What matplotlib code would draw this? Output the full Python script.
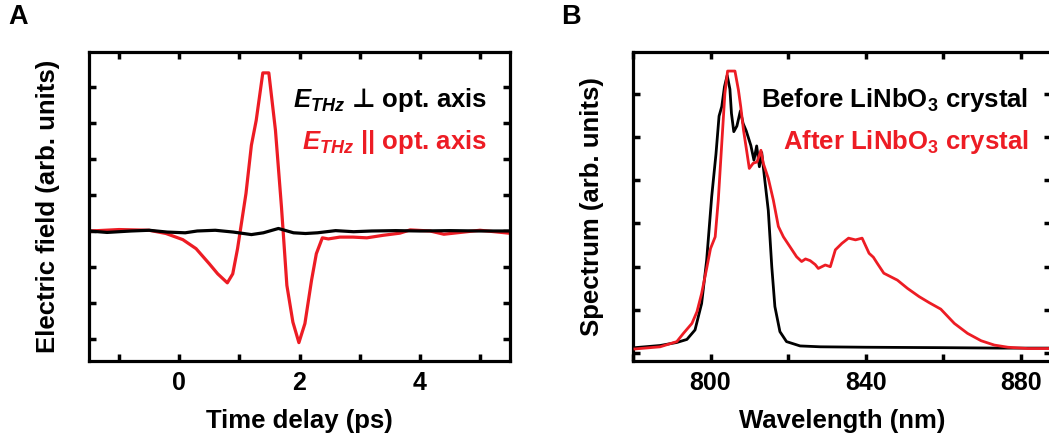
import matplotlib
matplotlib.use("Agg")
import matplotlib.pyplot as plt
from matplotlib.ticker import MultipleLocator, NullFormatter

plt.rcParams['font.family'] = ['Liberation Sans', 'DejaVu Sans']
plt.rcParams['font.weight'] = 'bold'
plt.rcParams['mathtext.fontset'] = 'custom'
plt.rcParams['mathtext.rm'] = 'Liberation Sans:bold'
plt.rcParams['mathtext.it'] = 'Liberation Sans:italic:bold'
plt.rcParams['mathtext.bf'] = 'Liberation Sans:bold'
plt.rcParams['mathtext.sf'] = 'DejaVu Sans:bold'

RED = '#ED1C24'

# ---------------- Panel A data ----------------
t_par = [-1.47, -1.0, -0.5, -0.22, 0.06, 0.28, 0.5, 0.64, 0.8, 0.89, 0.97, 1.11, 1.2,
         1.28, 1.39, 1.49, 1.6, 1.7, 1.79, 1.89, 1.99, 2.09, 2.2, 2.28, 2.38, 2.48,
         2.67, 2.89, 3.12, 3.39, 3.67, 3.84, 4.17, 4.4, 4.73, 5.0, 5.48]
e_par = [0.0, 0.04, 0.02, -0.07, -0.24, -0.49, -0.91, -1.19, -1.44, -1.19, -0.49, 1.04, 2.38,
         3.07, 4.39, 4.39, 2.8, 0.67, -1.51, -2.53, -3.10, -2.57, -1.37, -0.63, -0.19, -0.22,
         -0.17, -0.17, -0.19, -0.12, -0.06, 0.03, 0.0, -0.09, -0.03, 0.02, -0.06]

t_perp = [-1.5, -1.2, -0.8, -0.5, -0.2, 0.1, 0.3, 0.6, 0.9, 1.2, 1.4, 1.65, 1.9, 2.1,
          2.3, 2.6, 2.9, 3.2, 3.6, 4.0, 4.5, 5.0, 5.5]
e_perp = [0.0, -0.04, 0.0, 0.02, -0.03, -0.05, 0.0, 0.02, -0.03, -0.1, -0.05, 0.07, -0.05, -0.07,
          -0.05, 0.01, -0.02, 0.0, 0.01, 0.0, 0.01, 0.0, 0.0]

# ---------------- Panel B data ----------------
wl_before = [780.5, 787.0, 791.3, 793.9, 796.0, 797.7, 799.0, 800.3, 801.4, 802.2, 802.9,
             803.6, 804.3, 805.0, 805.4, 806.0, 806.8, 807.7, 808.4, 809.2, 810.4, 811.2,
             811.9, 812.6, 813.2, 814.0, 814.9, 815.8, 816.6, 817.9, 819.6, 823.1, 828.3,
             840.0, 860.0, 875.0, 887.0]
s_before = [0.13, 0.18, 0.25, 0.32, 0.54, 1.15, 2.15, 3.62, 4.60, 5.48, 5.70,
            6.16, 6.42, 6.1, 5.54, 5.12, 5.25, 5.60, 5.31, 5.14, 4.80, 4.46,
            4.79, 4.31, 4.64, 4.00, 3.30, 2.0, 1.08, 0.5, 0.27, 0.17, 0.15,
            0.14, 0.13, 0.12, 0.12]

wl_after = [780.5, 787.0, 791.3, 793.0, 795.2, 796.5, 797.7, 799.0, 800.0, 801.2, 802.0,
            802.9, 803.7, 804.4, 806.3, 807.2, 807.8, 808.5, 809.3, 810.0, 811.0, 812.0,
            813.0, 813.6, 814.9, 816.2, 817.5, 818.8, 820.5, 822.2, 823.5, 824.5, 825.7,
            827.0, 827.8, 829.6, 830.9, 832.2, 833.9, 835.6, 837.4, 839.1, 840.9, 842.0,
            843.0, 844.7, 848.2, 850.8, 853.8, 856.4, 859.4, 862.9, 866.3, 869.8, 873.2,
            876.7, 881.8, 887.0]
s_after = [0.10, 0.15, 0.27, 0.46, 0.69, 0.96, 1.38, 1.96, 2.42, 2.69, 3.54,
           4.85, 6.0, 6.52, 6.52, 6.08, 5.69, 5.16, 4.69, 4.27, 4.39, 4.42,
           4.69, 4.39, 4.04, 3.54, 2.93, 2.69, 2.46, 2.23, 2.12, 2.18, 2.14,
           2.05, 1.96, 2.04, 2.0, 2.39, 2.54, 2.66, 2.62, 2.66, 2.31, 2.22,
           2.08, 1.85, 1.69, 1.50, 1.31, 1.17, 1.02, 0.69, 0.46, 0.29, 0.19,
           0.14, 0.11, 0.11]

W, H = 1049, 434
fig = plt.figure(figsize=(W / 100, H / 100), dpi=100)

def px_axes(left, right, top, bottom):
    return fig.add_axes([left / W, 1 - bottom / H, (right - left) / W, (bottom - top) / H])

axA = px_axes(89, 510, 52, 361)
axB = px_axes(633, 1050.5, 52, 361)

for ax in (axA, axB):
    for sp in ax.spines.values():
        sp.set_linewidth(2.3)
    ax.tick_params(which='both', direction='in', top=True, right=True,
                   length=5, width=2.5, labelsize=18, pad=7)
    ax.yaxis.set_major_formatter(NullFormatter())

# Panel A
axA.plot(t_perp, e_perp, color='black', lw=2.3, zorder=3)
axA.plot(t_par, e_par, color=RED, lw=2.3, zorder=2)
axA.set_xlim(-1.5, 5.5)
axA.set_ylim(-3.61, 4.97)
axA.xaxis.set_major_locator(MultipleLocator(2))
axA.xaxis.set_minor_locator(MultipleLocator(1))
axA.yaxis.set_major_locator(MultipleLocator(1))
axA.set_xlabel('Time delay (ps)', fontsize=18.5, fontweight='bold', labelpad=10)
axA.set_ylabel('Electric field (arb. units)', fontsize=18.5, fontweight='bold', labelpad=14)
axA.text(0.945, 0.845, r'$E_{THz}$ $\mathsf{⊥}$ opt. axis', transform=axA.transAxes,
         ha='right', va='center', fontsize=18.5, fontweight='bold', color='black')
axA.text(0.945, 0.71, r'$E_{THz}$ || opt. axis', transform=axA.transAxes,
         ha='right', va='center', fontsize=18.5, fontweight='bold', color=RED)

# Panel B
axB.plot(wl_before, s_before, color='black', lw=2.0, zorder=2)
axB.plot(wl_after, s_after, color=RED, lw=2.0, zorder=3)
axB.set_xlim(780, 887.7)
axB.set_ylim(-0.178, 6.96)
axB.xaxis.set_major_locator(MultipleLocator(40))
axB.xaxis.set_minor_locator(MultipleLocator(20))
axB.yaxis.set_major_locator(MultipleLocator(1))
axB.set_xlabel('Wavelength (nm)', fontsize=18.5, fontweight='bold', labelpad=10)
axB.set_ylabel('Spectrum (arb. units)', fontsize=18.5, fontweight='bold', labelpad=14)
axB.text(0.947, 0.845, r'Before LiNbO$_3$ crystal', transform=axB.transAxes,
         ha='right', va='center', fontsize=18.5, fontweight='bold', color='black')
axB.text(0.947, 0.71, r'After LiNbO$_3$ crystal', transform=axB.transAxes,
         ha='right', va='center', fontsize=18.5, fontweight='bold', color=RED)

for ax in (axA, axB):
    for lab in ax.get_xticklabels():
        lab.set_fontweight('bold')

fig.text(8 / W, 1 - 17 / H, 'A', fontsize=19.5, fontweight='bold', va='center', ha='left')
fig.text(561 / W, 1 - 17 / H, 'B', fontsize=19.5, fontweight='bold', va='center', ha='left')

fig.savefig('out.png', dpi=100)
